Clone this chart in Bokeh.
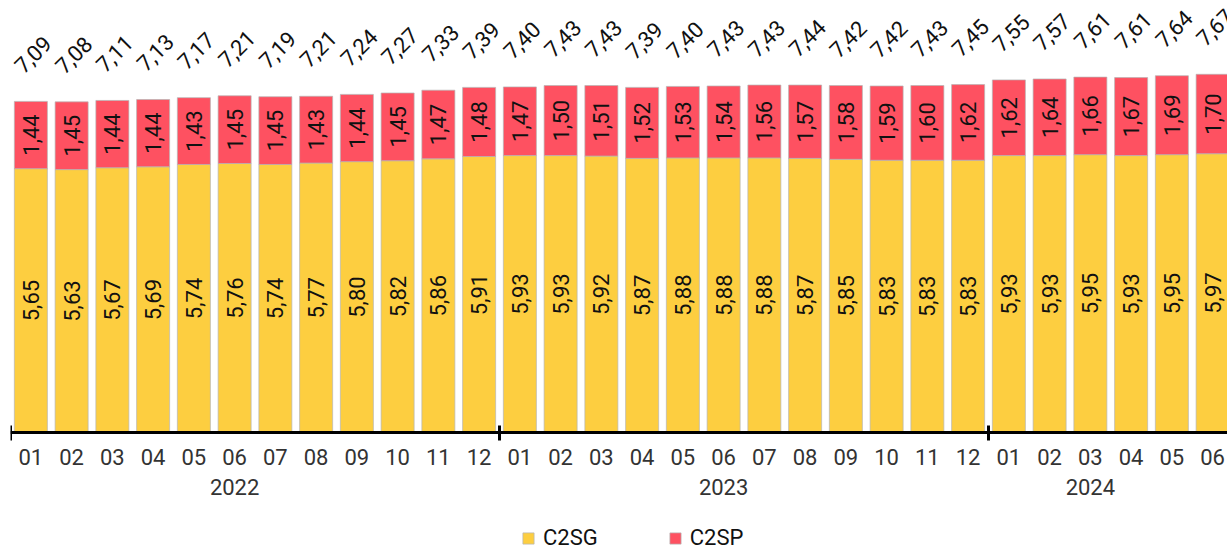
import math
from bokeh.plotting import figure
from bokeh.models import (ColumnDataSource, Range1d, FixedTicker, LinearAxis,
                          Legend, LegendItem)
from bokeh.core.properties import value
from bokeh.embed import file_html
from bokeh.resources import INLINE

# ---- data ----
years = ["2022"] * 12 + ["2023"] * 12 + ["2024"] * 6
months = ["01", "02", "03", "04", "05", "06", "07", "08", "09", "10", "11", "12"] * 2 + \
         ["01", "02", "03", "04", "05", "06"]
c2sg = [5.65, 5.63, 5.67, 5.69, 5.74, 5.76, 5.74, 5.77, 5.80, 5.82, 5.86, 5.91,
        5.93, 5.93, 5.92, 5.87, 5.88, 5.88, 5.88, 5.87, 5.85, 5.83, 5.83, 5.83,
        5.93, 5.93, 5.95, 5.93, 5.95, 5.97]
c2sp = [1.44, 1.45, 1.44, 1.44, 1.43, 1.45, 1.45, 1.43, 1.44, 1.45, 1.47, 1.48,
        1.47, 1.50, 1.51, 1.52, 1.53, 1.54, 1.56, 1.57, 1.58, 1.59, 1.60, 1.62,
        1.62, 1.64, 1.66, 1.67, 1.69, 1.70]
totals = [7.09, 7.08, 7.11, 7.13, 7.17, 7.21, 7.19, 7.21, 7.24, 7.27, 7.33, 7.39,
          7.40, 7.43, 7.43, 7.39, 7.40, 7.43, 7.43, 7.44, 7.42, 7.42, 7.43, 7.45,
          7.55, 7.57, 7.61, 7.61, 7.64, 7.67]
series = ["C2SG", "C2SP"]

YELLOW = "#FDCE40"
RED = "#FE5161"
FONT = "Roboto"
FS = "22px"


def fmt(v):
    return f"{v:.2f}".replace(".", ",")


n = len(months)
xs = [i + 0.5 for i in range(n)]
source = ColumnDataSource(dict(
    x=xs,
    C2SG=c2sg,
    C2SP=c2sp,
    total=totals,
    sg_mid=[g / 2 for g in c2sg],
    sp_mid=[g + s / 2 for g, s in zip(c2sg, c2sp)],
    sg_lbl=[fmt(v) for v in c2sg],
    sp_lbl=[fmt(v) for v in c2sp],
    tot_lbl=[fmt(v) for v in totals],
))

# year groups
year_order = []
for y in years:
    if y not in year_order:
        year_order.append(y)
year_bounds = []
year_pos = []
for y in year_order:
    idx = [i for i, yy in enumerate(years) if yy == y]
    year_bounds.append(idx[0])
    year_pos.append(idx[(len(idx) - 1) // 2] + 0.5)

PX = 46.7  # pixels per unit
p = figure(width=1227, height=550, output_backend="svg", toolbar_location=None,
           x_range=Range1d(0, 1217 / 40.75), y_range=Range1d(-118 / PX, 424 / PX),
           min_border_left=10, min_border_right=0, min_border_top=8,
           min_border_bottom=0, x_axis_location=None, y_axis_location=None)
p.outline_line_color = None
p.xgrid.visible = False
p.ygrid.visible = False
p.background_fill_color = "white"
p.border_fill_color = "white"

rs = p.vbar_stack(series, x="x", width=0.81, color=[YELLOW, RED], source=source,
                  line_color="#b5b5b5", line_width=1, line_alpha=0.7)

common = dict(text_font=value(FONT), text_font_size=FS, text_color="#111111",
              source=source)
p.text(x="x", y="sg_mid", text="sg_lbl", angle=math.pi / 2, text_align="center",
       text_baseline="middle", **common)
p.text(x="x", y="sp_mid", text="sp_lbl", angle=math.pi / 2, text_align="center",
       text_baseline="middle", **common)
p.text(x="x", y="total", text="tot_lbl", angle=math.pi / 4, text_align="center",
       text_baseline="middle", y_offset=-47, x_offset=2, **common)

# month axis (drawn at y = 0)
ax = LinearAxis(fixed_location=0,
                ticker=FixedTicker(ticks=xs, minor_ticks=year_bounds),
                major_label_overrides={x: m for x, m in zip(xs, months)})
ax.axis_line_color = "black"
ax.axis_line_width = 3
ax.major_tick_in = 0
ax.major_tick_out = 0
ax.major_tick_line_color = None
ax.minor_tick_in = 7
ax.minor_tick_out = 8
ax.minor_tick_line_width = 3
ax.minor_tick_line_color = "black"
ax.major_label_standoff = 8
ax.major_label_text_font = FONT
ax.major_label_text_font_size = FS
ax.major_label_text_color = "#333333"
p.add_layout(ax, "below")

# year axis
ax2 = LinearAxis(fixed_location=0, ticker=FixedTicker(ticks=year_pos),
                 major_label_overrides={x: y for x, y in zip(year_pos, year_order)})
ax2.axis_line_color = None
ax2.major_tick_line_color = None
ax2.minor_tick_line_color = None
ax2.major_tick_in = 0
ax2.major_tick_out = 0
ax2.major_label_standoff = 46
ax2.major_label_text_font = FONT
ax2.major_label_text_font_size = FS
ax2.major_label_text_color = "#333333"
p.add_layout(ax2, "below")

legend = Legend(items=[LegendItem(label=s, renderers=[r]) for s, r in zip(series, rs)],
                orientation="horizontal", location=(511, 0),
                glyph_width=14, glyph_height=14, label_standoff=8, spacing=70,
                padding=0, margin=0, border_line_color=None,
                background_fill_alpha=0, label_text_font=FONT,
                label_text_font_size=FS, label_text_color="#111111")
p.add_layout(legend)

open("out.html", "w").write(file_html(p, INLINE))
